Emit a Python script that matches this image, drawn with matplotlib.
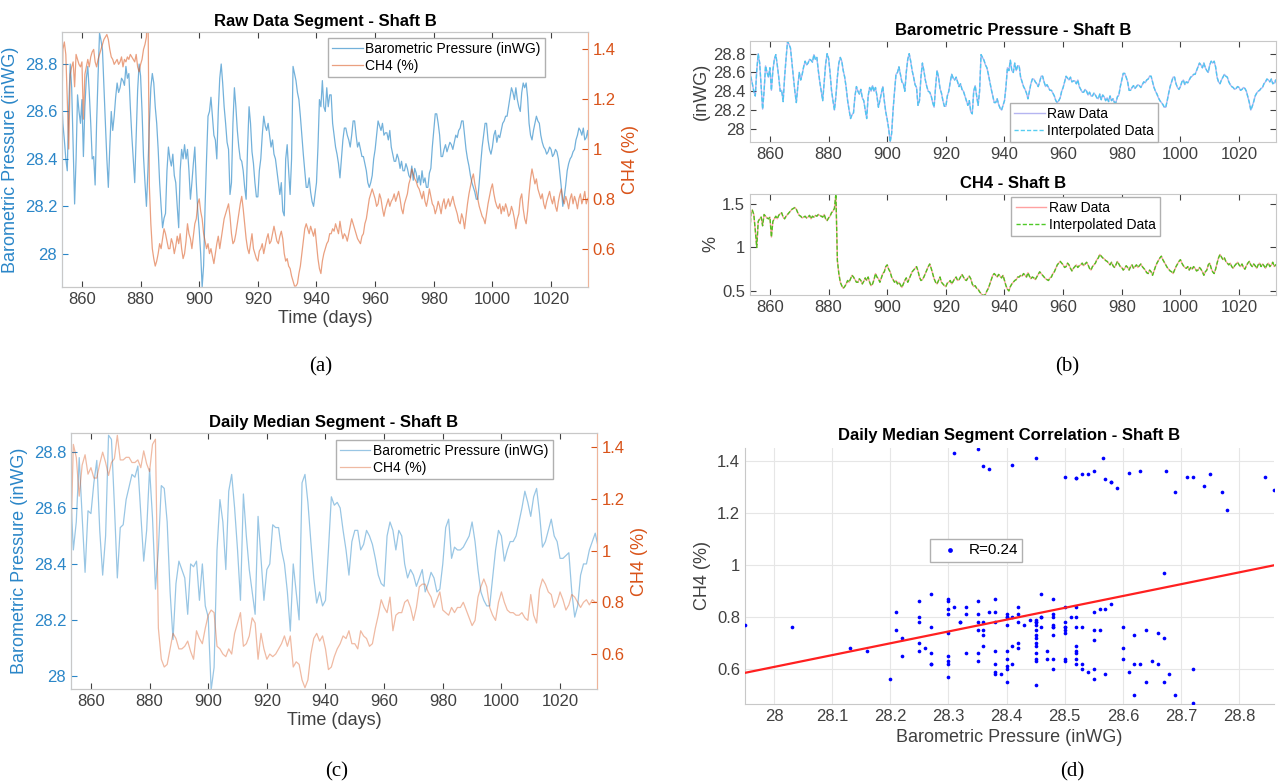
import numpy as np
import matplotlib.pyplot as plt
from matplotlib.ticker import MultipleLocator, FuncFormatter

plt.rcParams['font.family'] = ['Liberation Sans', 'DejaVu Sans']

# daily medians, days 853..1033
days = np.arange(853, 1034)
daily_p = [
    28.67, 28.45, 28.55, 28.78, 28.57, 28.37, 28.59, 28.58, 28.69, 28.77,
    28.52, 28.36, 28.50, 28.86, 28.845, 28.61, 28.35, 28.53, 28.54, 28.63,
    28.675, 28.72, 28.71, 28.75, 28.58, 28.41, 28.52, 28.74, 28.565, 28.31,
    28.45, 28.68, 28.67, 28.55, 28.30, 28.13, 28.33, 28.41, 28.38, 28.35,
    28.22, 28.40, 28.39, 28.41, 28.27, 28.40, 28.25, 28.21, 27.95, 28.03,
    28.45, 28.63, 28.55, 28.38, 28.66, 28.72, 28.60, 28.45, 28.27, 28.65,
    28.50, 28.38, 28.30, 28.22, 28.57, 28.42, 28.27, 28.38, 28.40, 28.54,
    28.53, 28.53, 28.45, 28.40, 28.30, 28.16, 28.40, 28.30, 28.20, 28.69,
    28.72, 28.62, 28.48, 28.35, 28.26, 28.30, 28.25, 28.27, 28.45, 28.64,
    28.61, 28.62, 28.60, 28.52, 28.45, 28.36, 28.48, 28.52, 28.52, 28.45,
    28.47, 28.52, 28.50, 28.47, 28.42, 28.36, 28.33, 28.32, 28.50, 28.55,
    28.52, 28.45, 28.52, 28.50, 28.40, 28.35, 28.38, 28.36, 28.32, 28.35,
    28.38, 28.30, 28.33, 28.37, 28.35, 28.30, 28.31, 28.40, 28.53, 28.56,
    28.42, 28.46, 28.45, 28.45, 28.46, 28.48, 28.50, 28.55, 28.48, 28.38,
    28.30, 28.27, 28.25, 28.25, 28.35, 28.45, 28.52, 28.50, 28.41, 28.45,
    28.48, 28.48, 28.50, 28.55, 28.60, 28.66, 28.62, 28.57, 28.64, 28.67,
    28.58, 28.46, 28.48, 28.52, 28.56, 28.50, 28.48, 28.42, 28.42, 28.43,
    28.44, 28.30, 28.21, 28.25, 28.36, 28.40, 28.40, 28.45, 28.48, 28.51,
    28.46,
]
daily_ch4 = [
    0.97, 1.41, 1.36, 1.21, 1.33, 1.37, 1.295, 1.32, 1.28, 1.28,
    1.335, 1.38, 1.34, 1.29, 1.34, 1.355, 1.445, 1.35, 1.35, 1.36,
    1.36, 1.34, 1.34, 1.35, 1.32, 1.385, 1.335, 1.305, 1.41, 1.43,
    0.70, 0.58, 0.55, 0.56, 0.62, 0.68, 0.66, 0.62, 0.62, 0.63,
    0.65, 0.61, 0.58, 0.69, 0.66, 0.64, 0.70, 0.75, 0.77, 0.76,
    0.63, 0.62, 0.60, 0.59, 0.62, 0.60, 0.68, 0.72, 0.76, 0.63,
    0.64, 0.67, 0.74, 0.72, 0.58, 0.68, 0.62, 0.58, 0.60, 0.59,
    0.60, 0.62, 0.64, 0.67, 0.63, 0.67, 0.55, 0.57, 0.56, 0.50,
    0.47, 0.50, 0.60, 0.66, 0.68, 0.65, 0.67, 0.62, 0.54, 0.55,
    0.59, 0.62, 0.64, 0.67, 0.66, 0.69, 0.64, 0.64, 0.62, 0.69,
    0.67, 0.66, 0.63, 0.64, 0.70, 0.75, 0.81, 0.78, 0.76, 0.82,
    0.69, 0.75, 0.76, 0.76, 0.80, 0.81, 0.78, 0.73, 0.78, 0.86,
    0.87, 0.87, 0.84, 0.82, 0.78, 0.81, 0.84, 0.77, 0.76, 0.75,
    0.78, 0.76, 0.78, 0.78, 0.80, 0.77, 0.74, 0.71, 0.73, 0.82,
    0.86, 0.89, 0.86, 0.78, 0.75, 0.73, 0.80, 0.84, 0.80, 0.77,
    0.76, 0.76, 0.75, 0.75, 0.76, 0.74, 0.73, 0.83, 0.75, 0.72,
    0.85, 0.89, 0.87, 0.84, 0.83, 0.78, 0.80, 0.84, 0.81, 0.77,
    0.79, 0.83, 0.82, 0.80, 0.78, 0.80, 0.81, 0.79, 0.81, 0.80,
    0.80,
]

# raw segment, half-day samples 853.0..1033.0
raw_t = np.arange(853, 1033.01, 0.5)
raw_p = [
    28.69, 28.55, 28.48, 28.40, 28.35, 28.62, 28.80, 28.70, 28.45, 28.21,
    28.40, 28.67, 28.60, 28.55, 28.65, 28.41, 28.62, 28.74, 28.79, 28.68,
    28.55, 28.40, 28.41, 28.29, 28.55, 28.75, 28.93, 28.90, 28.86, 28.70,
    28.55, 28.40, 28.28, 28.45, 28.60, 28.52, 28.58, 28.66, 28.72, 28.68,
    28.70, 28.74, 28.73, 28.71, 28.79, 28.74, 28.76, 28.62, 28.50, 28.40,
    28.30, 28.50, 28.69, 28.80, 28.75, 28.60, 28.41, 28.30, 28.20, 28.35,
    28.55, 28.70, 28.76, 28.72, 28.62, 28.55, 28.44, 28.30, 28.20, 28.11,
    28.15, 28.17, 28.35, 28.45, 28.40, 28.37, 28.42, 28.33, 28.30, 28.20,
    28.11, 28.35, 28.44, 28.40, 28.46, 28.40, 28.44, 28.35, 28.23, 28.30,
    28.38, 28.45, 28.30, 28.18, 28.10, 28.00, 27.86, 27.95, 28.20, 28.40,
    28.58, 28.60, 28.66, 28.58, 28.50, 28.48, 28.40, 28.60, 28.74, 28.80,
    28.72, 28.62, 28.55, 28.47, 28.44, 28.25, 28.30, 28.55, 28.70, 28.62,
    28.52, 28.45, 28.40, 28.39, 28.35, 28.28, 28.23, 28.45, 28.62, 28.55,
    28.43, 28.38, 28.30, 28.24, 28.24, 28.35, 28.40, 28.50, 28.58, 28.54,
    28.52, 28.55, 28.50, 28.45, 28.48, 28.42, 28.40, 28.35, 28.30, 28.25,
    28.30, 28.18, 28.16, 28.40, 28.46, 28.35, 28.25, 28.40, 28.79, 28.76,
    28.73, 28.68, 28.65, 28.58, 28.50, 28.42, 28.35, 28.28, 28.28, 28.32,
    28.26, 28.22, 28.20, 28.25, 28.30, 28.45, 28.65, 28.62, 28.73, 28.62,
    28.60, 28.70, 28.62, 28.67, 28.67, 28.55, 28.50, 28.45, 28.42, 28.38,
    28.32, 28.40, 28.48, 28.53, 28.53, 28.50, 28.48, 28.45, 28.50, 28.56,
    28.56, 28.50, 28.45, 28.47, 28.44, 28.41, 28.41, 28.38, 28.35, 28.30,
    28.28, 28.30, 28.33, 28.40, 28.44, 28.50, 28.56, 28.54, 28.52, 28.55,
    28.50, 28.51, 28.51, 28.48, 28.52, 28.45, 28.42, 28.39, 28.39, 28.42,
    28.40, 28.36, 28.39, 28.35, 28.35, 28.38, 28.36, 28.33, 28.32, 28.37,
    28.31, 28.36, 28.34, 28.30, 28.33, 28.29, 28.35, 28.30, 28.32, 28.28,
    28.28, 28.34, 28.36, 28.45, 28.52, 28.59, 28.59, 28.55, 28.50, 28.41,
    28.41, 28.44, 28.46, 28.43, 28.45, 28.47, 28.46, 28.44, 28.47, 28.50,
    28.49, 28.52, 28.53, 28.56, 28.56, 28.50, 28.44, 28.40, 28.37, 28.33,
    28.30, 28.28, 28.26, 28.23, 28.23, 28.30, 28.38, 28.45, 28.50, 28.55,
    28.55, 28.48, 28.44, 28.42, 28.45, 28.50, 28.52, 28.47, 28.50, 28.49,
    28.52, 28.55, 28.56, 28.58, 28.58, 28.62, 28.66, 28.70, 28.68, 28.65,
    28.70, 28.65, 28.62, 28.60, 28.68, 28.72, 28.70, 28.72, 28.66, 28.55,
    28.50, 28.48, 28.52, 28.55, 28.58, 28.56, 28.55, 28.50, 28.47, 28.45,
    28.44, 28.42, 28.43, 28.45, 28.44, 28.41, 28.42, 28.44, 28.43, 28.40,
    28.34, 28.28, 28.20, 28.24, 28.29, 28.35, 28.38, 28.40, 28.41, 28.43,
    28.44, 28.48, 28.50, 28.53, 28.52, 28.50, 28.53, 28.48, 28.49, 28.52,
    28.45,
]
raw_ch4 = [
    1.00, 1.40, 1.43, 1.38, 1.20, 1.00, 1.30, 1.33, 1.35, 1.25,
    1.38, 1.36, 1.34, 1.33, 1.35, 1.12, 1.30, 1.33, 1.36, 1.33,
    1.37, 1.39, 1.40, 1.35, 1.33, 1.36, 1.38, 1.40, 1.42, 1.44,
    1.45, 1.46, 1.44, 1.40, 1.37, 1.36, 1.34, 1.35, 1.36, 1.34,
    1.35, 1.37, 1.33, 1.36, 1.35, 1.37, 1.36, 1.38, 1.37, 1.36,
    1.35, 1.38, 1.33, 1.31, 1.34, 1.36, 1.40, 1.42, 1.45, 1.62,
    0.85, 0.70, 0.60, 0.56, 0.53, 0.55, 0.58, 0.62, 0.60, 0.64,
    0.68, 0.66, 0.63, 0.60, 0.60, 0.64, 0.62, 0.58, 0.61, 0.65,
    0.62, 0.66, 0.60, 0.56, 0.58, 0.63, 0.70, 0.66, 0.64, 0.60,
    0.65, 0.70, 0.72, 0.78, 0.80, 0.75, 0.72, 0.66, 0.63, 0.60,
    0.62, 0.58, 0.60, 0.57, 0.54, 0.58, 0.62, 0.65, 0.60, 0.64,
    0.68, 0.72, 0.74, 0.76, 0.78, 0.73, 0.66, 0.62, 0.63, 0.66,
    0.70, 0.74, 0.78, 0.81, 0.76, 0.70, 0.64, 0.60, 0.58, 0.62,
    0.66, 0.60, 0.58, 0.56, 0.55, 0.59, 0.60, 0.62, 0.58, 0.61,
    0.64, 0.66, 0.62, 0.63, 0.66, 0.69, 0.66, 0.63, 0.62, 0.65,
    0.67, 0.64, 0.58, 0.55, 0.56, 0.53, 0.52, 0.49, 0.47, 0.45,
    0.45, 0.46, 0.50, 0.53, 0.58, 0.63, 0.68, 0.70, 0.68, 0.66,
    0.69, 0.67, 0.65, 0.68, 0.62, 0.56, 0.52, 0.50, 0.55, 0.58,
    0.60, 0.62, 0.63, 0.66, 0.66, 0.68, 0.67, 0.70, 0.68, 0.66,
    0.71, 0.67, 0.64, 0.66, 0.65, 0.63, 0.66, 0.69, 0.72, 0.70,
    0.68, 0.66, 0.64, 0.63, 0.62, 0.65, 0.66, 0.70, 0.72, 0.76,
    0.80, 0.82, 0.84, 0.82, 0.80, 0.77, 0.78, 0.82, 0.80, 0.76,
    0.73, 0.76, 0.78, 0.80, 0.77, 0.79, 0.80, 0.82, 0.79, 0.81,
    0.83, 0.80, 0.76, 0.74, 0.78, 0.80, 0.82, 0.86, 0.88, 0.92,
    0.90, 0.88, 0.87, 0.85, 0.84, 0.82, 0.80, 0.83, 0.79, 0.77,
    0.80, 0.84, 0.81, 0.78, 0.77, 0.74, 0.76, 0.79, 0.77, 0.74,
    0.78, 0.80, 0.76, 0.78, 0.80, 0.77, 0.79, 0.81, 0.78, 0.76,
    0.74, 0.71, 0.70, 0.74, 0.72, 0.68, 0.73, 0.78, 0.82, 0.85,
    0.88, 0.90, 0.86, 0.83, 0.80, 0.77, 0.75, 0.73, 0.72, 0.70,
    0.74, 0.78, 0.81, 0.84, 0.86, 0.82, 0.79, 0.77, 0.76, 0.78,
    0.74, 0.77, 0.75, 0.78, 0.76, 0.73, 0.74, 0.77, 0.75, 0.72,
    0.68, 0.72, 0.74, 0.80, 0.82, 0.76, 0.72, 0.70, 0.75, 0.82,
    0.88, 0.92, 0.89, 0.86, 0.88, 0.84, 0.82, 0.80, 0.82, 0.78,
    0.76, 0.79, 0.81, 0.83, 0.80, 0.78, 0.81, 0.77, 0.75, 0.79,
    0.82, 0.84, 0.80, 0.78, 0.81, 0.79, 0.76, 0.80, 0.82, 0.78,
    0.81, 0.79, 0.76, 0.80, 0.82, 0.78, 0.80, 0.83, 0.78, 0.80,
    0.81,
]
r_label = 'R=0.24'

BLUE = '#0072BD'
ORANGE = '#D95319'
TXT = '#404040'
W, H = 1278, 783
fig = plt.figure(figsize=(W / 100, H / 100), dpi=100)


def rect(l, t, r, b):
    return [l / W, 1 - b / H, (r - l) / W, (b - t) / H]


gfmt = FuncFormatter(lambda v, pos: f'{v:g}')
xlim = (853.2, 1032.6)


def dual_panel(box, title, t1, p, t2, c, plim, clim, alpha, anchor):
    ax = fig.add_axes(rect(*box))
    ax2 = ax.twinx()
    l1, = ax.plot(t1, p, color=BLUE, lw=0.9, alpha=alpha)
    l2, = ax2.plot(t2, c, color=ORANGE, lw=0.9, alpha=alpha)
    ax.set_xlim(*xlim)
    ax.set_ylim(*plim)
    ax2.set_ylim(*clim)
    ax.xaxis.set_major_locator(MultipleLocator(20))
    ax.yaxis.set_major_locator(MultipleLocator(0.2))
    ax2.yaxis.set_major_locator(MultipleLocator(0.2))
    for a in (ax, ax2):
        a.yaxis.set_major_formatter(gfmt)
        a.tick_params(direction='in', length=4, labelsize=12)
        for s in a.spines.values():
            s.set_color('#c8c8c8')
    ax.tick_params(axis='x', colors=TXT, top=True)
    ax.tick_params(axis='y', colors='#2a86c8')
    ax2.tick_params(axis='y', colors=ORANGE)
    ax.spines['left'].set_color('#8cc3e6')
    ax2.spines['right'].set_color('#efb49a')
    ax.set_title(title, fontsize=12, fontweight='bold', pad=4)
    ax.set_xlabel('Time (days)', fontsize=13, color=TXT, labelpad=2)
    ax.set_ylabel('Barometric Pressure (inWG)', fontsize=13, color='#2a86c8', labelpad=4)
    ax2.set_ylabel('CH4 (%)', fontsize=13, color=ORANGE, labelpad=4)
    leg = ax2.legend([l1, l2], ['Barometric Pressure (inWG)', 'CH4 (%)'],
                     loc='upper right', bbox_to_anchor=anchor, fontsize=10,
                     fancybox=False, framealpha=1, borderpad=0.3,
                     handlelength=2.2, handletextpad=0.2, labelspacing=0.2,
                     borderaxespad=0)
    leg.get_frame().set_edgecolor('#b0b0b0')
    return ax


# (a) raw data segment
dual_panel((62, 32, 588, 287), 'Raw Data Segment - Shaft B',
           raw_t, raw_p, raw_t, raw_ch4, (27.86, 28.935), (0.446, 1.47),
           0.55, (0.918, 0.976))

# (c) daily median segment
dual_panel((71, 433, 597, 689), 'Daily Median Segment - Shaft B',
           days, daily_p, days, daily_ch4, (27.953, 28.868), (0.465, 1.454),
           0.4, (0.916, 0.973))


# (b) raw vs interpolated
def interp_panel(box, title, y, raw_col, int_col, ylim, step, ylabel, loc, anchor):
    ax = fig.add_axes(rect(*box))
    l1, = ax.plot(raw_t, y, color=raw_col, lw=1.0, alpha=0.45)
    l2, = ax.plot(raw_t, y, color=int_col, lw=1.0, ls='--', alpha=0.9,
                  dashes=(3, 1.5))
    ax.set_xlim(*xlim)
    ax.set_ylim(*ylim)
    ax.xaxis.set_major_locator(MultipleLocator(20))
    ax.yaxis.set_major_locator(MultipleLocator(step))
    ax.yaxis.set_major_formatter(gfmt)
    ax.tick_params(direction='in', length=4, labelsize=12, colors=TXT,
                   top=True, right=True)
    for s in ax.spines.values():
        s.set_color('#c8c8c8')
    ax.set_title(title, fontsize=12, fontweight='bold', pad=4)
    ax.set_ylabel(ylabel, fontsize=13, color=TXT, labelpad=2)
    leg = ax.legend([l1, l2], ['Raw Data', 'Interpolated Data'], loc=loc,
                    bbox_to_anchor=anchor, fontsize=10, fancybox=False,
                    framealpha=1, borderpad=0.3, handlelength=2.2,
                    handletextpad=0.2, labelspacing=0.2, borderaxespad=0)
    leg.get_frame().set_edgecolor('#b0b0b0')
    return ax


interp_panel((750, 41, 1276, 142), 'Barometric Pressure - Shaft B', raw_p,
             '#5c5ce0', '#45c8f0', (27.86, 28.935), 0.2, '(inWG)',
             'lower left', (0.494, 0.0))
interp_panel((750, 194, 1276, 295), 'CH4 - Shaft B', raw_ch4,
             '#ff3030', '#3cc410', (0.453, 1.616), 0.5, '%',
             'upper left', (0.497, 0.973))

# (d) correlation scatter
ax = fig.add_axes(rect(745, 448, 1274, 704))
pts = ax.scatter(daily_p, daily_ch4, s=7, color='#0000ff', lw=0, zorder=3)
ax.set_xlim(27.95, 28.86)
ax.set_ylim(0.465, 1.45)
coef = np.polyfit(daily_p, daily_ch4, 1)
xs = np.array(ax.get_xlim())
ax.plot(xs, np.polyval(coef, xs), color='#ff2020', lw=1.6, zorder=4)
ax.xaxis.set_major_locator(MultipleLocator(0.1))
ax.yaxis.set_major_locator(MultipleLocator(0.2))
ax.xaxis.set_major_formatter(gfmt)
ax.yaxis.set_major_formatter(gfmt)
ax.grid(color='#e6e6e6', lw=0.8)
ax.set_axisbelow(True)
ax.tick_params(direction='in', length=0, labelsize=12, colors=TXT)
for side in ('top', 'right'):
    ax.spines[side].set_visible(False)
for side in ('left', 'bottom'):
    ax.spines[side].set_color('#c8c8c8')
ax.set_title('Daily Median Segment Correlation - Shaft B', fontsize=12,
             fontweight='bold', pad=6)
ax.set_xlabel('Barometric Pressure (inWG)', fontsize=13, color=TXT, labelpad=4)
ax.set_ylabel('CH4 (%)', fontsize=13, color=TXT, labelpad=4)
leg = ax.legend([pts], [r_label], loc='upper left', bbox_to_anchor=(0.35, 0.645),
                fontsize=11, fancybox=False, framealpha=1, borderpad=0.3,
                handletextpad=0.2, borderaxespad=0, markerscale=1.3)
leg.get_frame().set_edgecolor('#b0b0b0')

# sub-figure labels
for x, y, s in [(321, 367, '(a)'), (1067, 367, '(b)'), (337, 772, '(c)'), (1072, 772, '(d)')]:
    fig.text(x / W, 1 - y / H, s, fontsize=15, family='Liberation Serif',
             ha='center', va='center')

fig.savefig('out.png', dpi=100)
